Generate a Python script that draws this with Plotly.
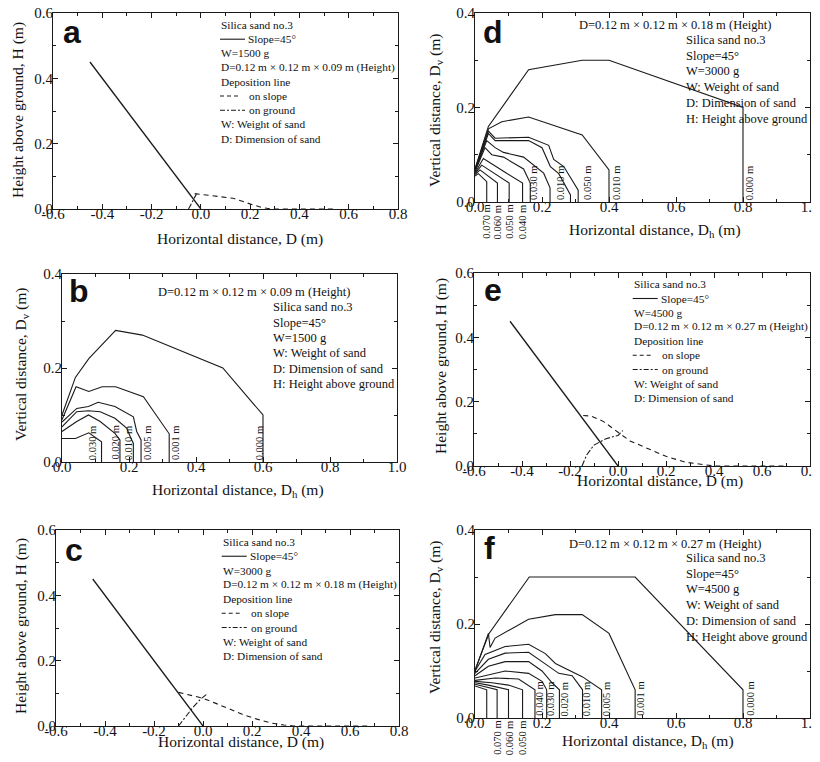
import plotly.graph_objects as go

# the page body has an 8 px margin; the figure fills the rest of the 820x762 window
PAGE_OFF = 8
FW, FH = 820 - PAGE_OFF, 762 - PAGE_OFF
SERIF = "Liberation Serif, Times New Roman, serif"
SANS = "Liberation Sans, Arial, sans-serif"
INK = "#1a1a1a"

# ---------------- data ----------------
# slope line (panels a, c, e)
slope_x = [-0.45, 0.0]
slope_y = [0.45, 0.0]

# panel a: W=1500 g
a_onslope_x = [-0.025, 0.0, 0.05, 0.13, 0.21, 0.25, 0.29, 0.55]
a_onslope_y = [0.047, 0.045, 0.040, 0.033, 0.013, 0.004, 0.0, 0.0]
a_onground_x = [-0.05, -0.035, -0.018]
a_onground_y = [0.0, 0.022, 0.046]

# panel c: W=3000 g
c_onslope_x = [-0.10, -0.05, 0.0, 0.05, 0.11, 0.16, 0.22, 0.28, 0.33, 0.37, 0.68]
c_onslope_y = [0.103, 0.095, 0.085, 0.070, 0.051, 0.036, 0.021, 0.009, 0.003, 0.0, 0.0]
c_onground_x = [-0.10, -0.07, -0.04, -0.01, 0.02]
c_onground_y = [0.0, 0.030, 0.058, 0.082, 0.100]

# panel e: W=4500 g
e_onslope_x = [-0.145, -0.11, -0.06, -0.02, 0.0, 0.05, 0.12, 0.20, 0.28, 0.36, 0.40, 0.69]
e_onslope_y = [0.157, 0.155, 0.138, 0.115, 0.105, 0.078, 0.055, 0.030, 0.012, 0.003, 0.0, 0.0]
e_onground_x = [-0.15, -0.13, -0.10, -0.05, 0.0, 0.02]
e_onground_y = [0.0, 0.035, 0.065, 0.085, 0.095, 0.110]

# panel b contours (Dh, Dv)
b_contours = [
    ([0, 0.04, 0.08, 0.118, 0.118], [0.05, 0.05, 0.062, 0.043, 0]),
    ([0, 0.044, 0.079, 0.114, 0.158, 0.173, 0.173], [0.065, 0.086, 0.10, 0.086, 0.061, 0.047, 0]),
    ([0, 0.044, 0.079, 0.114, 0.158, 0.193, 0.208, 0.213, 0.213], [0.075, 0.107, 0.109, 0.107, 0.093, 0.072, 0.047, 0.04, 0]),
    ([0, 0.044, 0.079, 0.108, 0.158, 0.213, 0.223, 0.236, 0.236], [0.085, 0.114, 0.118, 0.127, 0.118, 0.096, 0.065, 0.047, 0]),
    ([0, 0.042, 0.08, 0.12, 0.16, 0.243, 0.32, 0.32], [0.09, 0.16, 0.15, 0.16, 0.16, 0.139, 0.06, 0]),
    ([0, 0.04, 0.08, 0.16, 0.24, 0.48, 0.60, 0.60], [0.10, 0.18, 0.22, 0.28, 0.27, 0.20, 0.10, 0]),
]
b_labels = ["H=0.040 m", "0.030 m", "0.020 m", "0.010 m", "0.005 m", "0.001 m", "0.000 m"]
b_label_x = [-0.013, 0.090, 0.157, 0.198, 0.254, 0.337, 0.589]

# panel d contours
d_contours = [
    ([0, 0.01, 0.035, 0.035], [0.055, 0.060, 0.043, 0]),
    ([0, 0.015, 0.067, 0.067], [0.058, 0.068, 0.040, 0]),
    ([0, 0.02, 0.102, 0.102], [0.060, 0.078, 0.040, 0]),
    ([0, 0.025, 0.085, 0.142, 0.142], [0.062, 0.092, 0.065, 0.040, 0]),
    ([0, 0.03, 0.05, 0.085, 0.145, 0.165, 0.165], [0.064, 0.115, 0.100, 0.095, 0.070, 0.040, 0]),
    ([0, 0.035, 0.06, 0.085, 0.145, 0.205, 0.224, 0.224], [0.066, 0.130, 0.115, 0.105, 0.095, 0.061, 0.030, 0]),
    ([0, 0.04, 0.06, 0.16, 0.20, 0.225, 0.25, 0.285, 0.285], [0.067, 0.145, 0.130, 0.130, 0.115, 0.075, 0.060, 0.015, 0]),
    ([0, 0.04, 0.06, 0.16, 0.22, 0.235, 0.265, 0.308, 0.308], [0.068, 0.150, 0.135, 0.137, 0.120, 0.090, 0.075, 0.025, 0]),
    ([0, 0.04, 0.08, 0.16, 0.32, 0.40, 0.40], [0.068, 0.155, 0.170, 0.180, 0.142, 0.068, 0]),
    ([0, 0.04, 0.16, 0.24, 0.32, 0.40, 0.80, 0.80], [0.070, 0.160, 0.280, 0.290, 0.300, 0.300, 0.200, 0]),
]
d_top_labels = ["H=0.080 m", "0.030 m", "0.010 m", "0.050 m", "0.010 m", "0.000 m"]
d_top_label_x = [-0.008, 0.176, 0.257, 0.337, 0.424, 0.822]
d_bottom_labels = ["0.070 m", "0.060 m", "0.050 m", "0.040 m"]
d_bottom_label_x = [0.035, 0.070, 0.104, 0.144]

# panel f contours
f_contours = [
    ([0, 0.035, 0.035], [0.068, 0.060, 0]),
    ([0, 0.066, 0.066], [0.072, 0.060, 0]),
    ([0, 0.04, 0.10, 0.10], [0.075, 0.070, 0.060, 0]),
    ([0, 0.05, 0.10, 0.142, 0.142], [0.078, 0.075, 0.070, 0.060, 0]),
    ([0, 0.06, 0.13, 0.179, 0.179], [0.080, 0.085, 0.083, 0.060, 0]),
    ([0, 0.06, 0.09, 0.16, 0.20, 0.214, 0.214], [0.085, 0.095, 0.100, 0.095, 0.078, 0.060, 0]),
    ([0, 0.04, 0.09, 0.16, 0.20, 0.23, 0.252, 0.252], [0.090, 0.110, 0.120, 0.120, 0.100, 0.075, 0.060, 0]),
    ([0, 0.04, 0.09, 0.16, 0.20, 0.25, 0.29, 0.321, 0.321], [0.095, 0.125, 0.138, 0.140, 0.120, 0.095, 0.090, 0.060, 0]),
    ([0, 0.03, 0.09, 0.16, 0.21, 0.24, 0.32, 0.378, 0.378], [0.100, 0.135, 0.152, 0.157, 0.137, 0.116, 0.088, 0.060, 0]),
    ([0, 0.04, 0.045, 0.06, 0.16, 0.24, 0.32, 0.40, 0.478, 0.478], [0.100, 0.180, 0.150, 0.170, 0.210, 0.220, 0.220, 0.180, 0.060, 0]),
    ([0, 0.042, 0.162, 0.478, 0.80, 0.80], [0.102, 0.180, 0.300, 0.300, 0.060, 0]),
]
f_top_labels = ["H=0.095 m", "0.040 m", "0.030 m", "0.020 m", "0.010 m", "0.005 m", "0.001 m", "0.000 m"]
f_top_label_x = [-0.008, 0.190, 0.224, 0.267, 0.332, 0.392, 0.492, 0.820]
f_bottom_labels = ["0.070 m", "0.060 m", "0.050 m"]
f_bottom_label_x = [0.065, 0.102, 0.140]

# axis ticks
xt_slope = [-0.6, -0.4, -0.2, 0.0, 0.2, 0.4, 0.6, 0.8]
xt_slope_text = ["-0.6", "-0.4", "-0.2", "0.0", "0.2", "0.4", "0.6", "0.8"]
yt_slope = [0.0, 0.2, 0.4, 0.6]
yt_slope_text = ["0.0", "0.2", "0.4", "0.6"]
xt_dist = [0.0, 0.2, 0.4, 0.6, 0.8, 1.0]
xt_dist_text = ["0.0", "0.2", "0.4", "0.6", "0.8", "1.0"]
yt_dist = [0.0, 0.2, 0.4]
yt_dist_text = ["0.0", "0.2", "0.4"]

# ---------------- layout helpers ----------------
# panel boxes in window pixels: left, top, right, bottom
boxes = {
    1: (53, 13, 398, 209),   # a
    2: (62, 274, 397, 462),  # b
    3: (56, 530, 399, 726),  # c
    4: (475, 13, 810, 202),  # d
    5: (474, 273, 810, 466), # e
    6: (475, 530, 810, 718), # f
}

def px(x):
    return (x - PAGE_OFF) / FW

def py(y):
    return 1 - (y - PAGE_OFF) / FH

fig = go.Figure()
annotations = []
shapes = []

def axis_suffix(i):
    return "" if i == 1 else str(i)

def add_line(i, xs, ys, dash="solid", width=1.1):
    fig.add_trace(go.Scatter(
        x=xs, y=ys, mode="lines", xaxis="x" + axis_suffix(i), yaxis="y" + axis_suffix(i),
        line=dict(color=INK, width=width, dash=dash), showlegend=False, hoverinfo="skip"))

def text(x, y, s, size=11.3, xanchor="left", yanchor="middle", family=SERIF, bold=False, angle=0):
    if bold:
        s = "<b>" + s + "</b>"
    annotations.append(dict(
        x=px(x), y=py(y), xref="paper", yref="paper", text=s, showarrow=False,
        xanchor=xanchor, yanchor=yanchor, textangle=angle,
        font=dict(family=family, size=size, color="#111"), borderpad=0))

def data_label(i, x, s, below=False, size=10.5):
    sfx = axis_suffix(i)
    annotations.append(dict(
        x=x, y=0, xref="x" + sfx, yref="y" + sfx, text=s, showarrow=False,
        textangle=-90, xanchor="center", yanchor="top" if below else "bottom",
        yshift=-2 if below else 1, borderpad=0,
        font=dict(family=SERIF, size=size, color="#111")))

def sample(x0, x1, y, dash):
    shapes.append(dict(type="line", xref="paper", yref="paper",
                       x0=px(x0), x1=px(x1), y0=py(y), y1=py(y),
                       line=dict(color=INK, width=1.1, dash=dash)))

# ---------------- traces ----------------
for i, (ox, oy, gx, gy) in {1: (a_onslope_x, a_onslope_y, a_onground_x, a_onground_y),
                            3: (c_onslope_x, c_onslope_y, c_onground_x, c_onground_y),
                            5: (e_onslope_x, e_onslope_y, e_onground_x, e_onground_y)}.items():
    add_line(i, slope_x, slope_y, "solid", 1.3)
    add_line(i, ox, oy, "5px,4px")
    add_line(i, gx, gy, "6px,2px,2px,2px")

for xs, ys in b_contours:
    add_line(2, xs, ys)
for xs, ys in d_contours:
    add_line(4, xs, ys)
for xs, ys in f_contours:
    add_line(6, xs, ys)

for s, x in zip(b_labels, b_label_x):
    data_label(2, x, s)
for s, x in zip(d_top_labels, d_top_label_x):
    data_label(4, x, s)
for s, x in zip(d_bottom_labels, d_bottom_label_x):
    data_label(4, x, s, below=True)
for s, x in zip(f_top_labels, f_top_label_x):
    data_label(6, x, s)
for s, x in zip(f_bottom_labels, f_bottom_label_x):
    data_label(6, x, s, below=True)

# ---------------- axes ----------------
layout = dict(width=FW, height=FH, margin=dict(l=0, r=0, t=0, b=0, autoexpand=False),
              template="none", font=dict(family=SERIF, color="#111"),
              paper_bgcolor="white", plot_bgcolor="white", showlegend=False)

for i, (l, t, r, b) in boxes.items():
    sfx = axis_suffix(i)
    slope_panel = i in (1, 3, 5)
    common = dict(showline=True, linecolor=INK, linewidth=1, mirror="allticks",
                  ticks="inside", ticklen=5, tickwidth=1, tickcolor=INK,
                  showgrid=False, zeroline=False, fixedrange=True, automargin=False,
                  ticklabeloverflow="allow",
                  tickfont=dict(family=SERIF, size=15, color="#111"),
                  minor=dict(ticks="inside", ticklen=3, tickwidth=1, tickcolor=INK,
                             dtick=0.1, tick0=0, showgrid=False))
    xa = dict(common, domain=[px(l), px(r)], anchor="y" + sfx,
              range=[-0.6, 0.8] if slope_panel else [0, 1.0],
              tickmode="array",
              tickvals=xt_slope if slope_panel else xt_dist,
              ticktext=xt_slope_text if slope_panel else xt_dist_text,
              ticklabelstandoff=-9)
    ya = dict(common, domain=[py(b), py(t)], anchor="x" + sfx,
              range=[0, 0.6] if slope_panel else [0, 0.4],
              tickmode="array",
              tickvals=yt_slope if slope_panel else yt_dist,
              ticktext=yt_slope_text if slope_panel else yt_dist_text,
              ticklabelstandoff=-4)
    layout["xaxis" + sfx] = xa
    layout["yaxis" + sfx] = ya

# ---------------- axis titles ----------------
xtitles = {1: (240, 239, "Horizontal distance, D (m)"),
           2: (238, 490, "Horizontal distance, D<sub>h</sub> (m)"),
           3: (241, 742, "Horizontal distance, D (m)"),
           4: (655, 231, "Horizontal distance, D<sub>h</sub> (m)"),
           5: (660, 481, "Horizontal distance, D (m)"),
           6: (648, 741, "Horizontal distance, D<sub>h</sub> (m)")}
for i, (x, y, s) in xtitles.items():
    text(x, y, s, size=15.5, xanchor="center")

ytitles = {1: (18, 110, "Height above ground, H (m)"),
           2: (21, 364, "Vertical distance, D<sub>v</sub> (m)"),
           3: (21, 626, "Height above ground, H (m)"),
           4: (435, 110, "Vertical distance, D<sub>v</sub> (m)"),
           5: (441, 366, "Height above ground, H (m)"),
           6: (435, 617, "Vertical distance, D<sub>v</sub> (m)")}
for i, (x, y, s) in ytitles.items():
    text(x, y, s, size=15.5, xanchor="center", angle=-90)

# ---------------- panel letters ----------------
letters = {"a": (71.7, 43.5), "b": (79, 303), "c": (74, 562),
           "d": (493, 43.5), "e": (493, 302), "f": (489, 560)}
for s, (x, y) in letters.items():
    text(x, y + 7, s, size=32, xanchor="center", yanchor="bottom", family=SANS, bold=True)

# ---------------- legends (slope panels) ----------------
def slope_legend(x0, y0, dy, weight, dim):
    rows = ["Silica sand no.3", "Slope=45°", weight, dim, "Deposition line",
            "on slope", "on ground", "W: Weight of sand", "D: Dimension of sand"]
    for k, s in enumerate(rows):
        y = y0 + k * dy
        if k == 1:
            sample(x0, x0 + 25, y, "solid")
            text(x0 + 27, y, s)
        elif k == 5:
            sample(x0, x0 + 18, y, "4px,3px")
            text(x0 + 28, y, s)
        elif k == 6:
            sample(x0, x0 + 25, y, "5px,2px,2px,2px")
            text(x0 + 28, y, s)
        else:
            text(x0, y, s)

slope_legend(220, 25, 14.2, "W=1500 g", "D=0.12 m × 0.12 m × 0.09 m (Height)")
slope_legend(221.7, 542, 14.25, "W=3000 g", "D=0.12 m × 0.12 m × 0.18 m (Height)")
slope_legend(632.7, 284.3, 14.2, "W=4500 g", "D=0.12 m × 0.12 m × 0.27 m (Height)")

def dist_legend(xd, yd, x0, y0, dy, dim, weight):
    text(xd, yd, dim, size=12.5)
    rows = ["Silica sand no.3", "Slope=45°", weight, "W: Weight of sand",
            "D: Dimension of sand", "H: Height above ground"]
    for k, s in enumerate(rows):
        text(x0, y0 + k * dy, s, size=12.5)

dist_legend(156.7, 292, 271.7, 307.5, 15.3, "D=0.12 m × 0.12 m × 0.09 m (Height)", "W=1500 g")
dist_legend(578.3, 25, 685, 40, 15.7, "D=0.12 m × 0.12 m × 0.18 m (Height)", "W=3000 g")
dist_legend(568.3, 544, 685, 558, 15.7, "D=0.12 m × 0.12 m × 0.27 m (Height)", "W=4500 g")

layout["annotations"] = annotations
layout["shapes"] = shapes
fig.update_layout(**layout)
fig.write_html("out.html")
